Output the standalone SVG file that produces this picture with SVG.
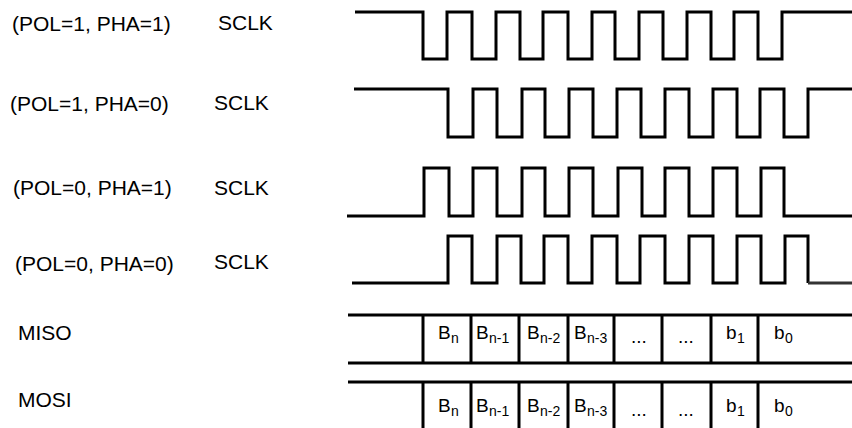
<svg xmlns="http://www.w3.org/2000/svg" width="852" height="428" viewBox="0 0 852 428">
<style>
.lbl{font-family:"Liberation Sans",Arial,sans-serif;font-size:21px;fill:#000}
.bt{font-family:"Liberation Sans",Arial,sans-serif;font-size:19px;fill:#000}
.sub{font-family:"Liberation Sans",Arial,sans-serif;font-size:14px;fill:#000}
.w{fill:none;stroke:#000;stroke-width:3;stroke-linejoin:miter;stroke-linecap:butt}
</style>
<rect width="852" height="428" fill="#fff"/>
<g id="row1">
<text class="lbl" x="12" y="31">(POL=1, PHA=1)</text>
<text class="lbl" x="218" y="30">SCLK</text>
<path class="w" d="M355,12 H423 V59 H447 V12 H472 V59 H496 V12 H520 V59 H543 V12 H568 V59 H592 V12 H615 V59 H639 V12 H663 V59 H687 V12 H711 V59 H734 V12 H758 V59 H782 V12 H852"/>
</g>
<g id="row2">
<text class="lbl" x="10" y="111">(POL=1, PHA=0)</text>
<text class="lbl" x="214" y="110">SCLK</text>
<path class="w" d="M354,89 H448 V137 H473 V89 H497 V137 H522 V89 H545 V137 H569 V89 H593 V137 H617 V89 H641 V137 H665 V89 H689 V137 H713 V89 H737 V137 H760 V89 H784 V137 H808 V89 H852"/>
</g>
<g id="row3">
<text class="lbl" x="13" y="195">(POL=0, PHA=1)</text>
<text class="lbl" x="214" y="195">SCLK</text>
<path class="w" d="M347,216 H424 V168 H449 V216 H473 V168 H497 V216 H522 V168 H545 V216 H569 V168 H593 V216 H618 V168 H642 V216 H665 V168 H689 V216 H713 V168 H737 V216 H761 V168 H784 V216 H852"/>
</g>
<g id="row4">
<text class="lbl" x="15" y="271">(POL=0, PHA=0)</text>
<text class="lbl" x="214" y="269">SCLK</text>
<path class="w" d="M352,283 H448 V236 H472 V283 H497 V236 H521 V283 H544 V236 H568 V283 H592 V236 H617 V283 H640 V236 H665 V283 H689 V236 H713 V283 H737 V236 H761 V283 H785 V236 H808 V283"/>
<path d="M808,283 H852" fill="none" stroke="#333" stroke-width="3"/>
</g>
<g id="miso">
<text class="lbl" x="18" y="340">MISO</text>
<path class="w" d="M348,315 H852 M348,363 H852 M423,315 V363 M471,315 V363 M519,315 V363 M568,315 V363 M614,315 V363 M662,315 V363 M711,315 V363 M758,315 V363"/>
<text class="bt" x="438" y="339">B</text><text class="sub" x="451" y="343">n</text>
<text class="bt" x="476" y="339">B</text><text class="sub" x="489" y="343">n-1</text>
<text class="bt" x="527" y="339">B</text><text class="sub" x="540" y="343">n-2</text>
<text class="bt" x="574" y="339">B</text><text class="sub" x="587" y="343">n-3</text>
<text class="bt" x="631" y="343">...</text>
<text class="bt" x="678" y="343">...</text>
<text class="bt" x="726" y="339">b</text><text class="sub" x="737" y="343">1</text>
<text class="bt" x="774" y="339">b</text><text class="sub" x="785" y="343">0</text>
</g>
<g id="mosi">
<text class="lbl" x="18" y="407">MOSI</text>
<path class="w" d="M348,382 H852 M423,382 V428 M471,382 V428 M519,382 V428 M568,382 V428 M614,382 V428 M662,382 V428 M711,382 V428 M758,382 V428"/>
<text class="bt" x="438" y="412">B</text><text class="sub" x="451" y="416">n</text>
<text class="bt" x="476" y="412">B</text><text class="sub" x="489" y="416">n-1</text>
<text class="bt" x="527" y="412">B</text><text class="sub" x="540" y="416">n-2</text>
<text class="bt" x="574" y="412">B</text><text class="sub" x="587" y="416">n-3</text>
<text class="bt" x="631" y="416">...</text>
<text class="bt" x="678" y="416">...</text>
<text class="bt" x="726" y="412">b</text><text class="sub" x="737" y="416">1</text>
<text class="bt" x="774" y="412">b</text><text class="sub" x="785" y="416">0</text>
</g>
</svg>
